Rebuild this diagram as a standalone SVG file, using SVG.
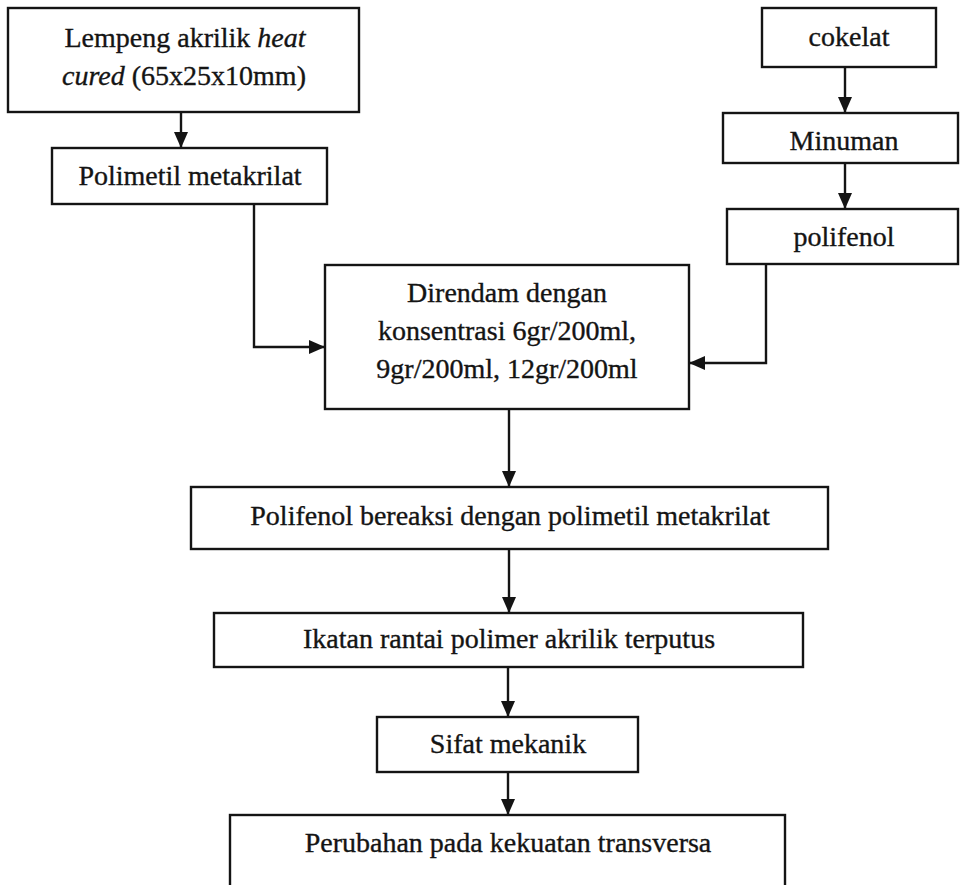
<svg xmlns="http://www.w3.org/2000/svg" width="961" height="885" viewBox="0 0 961 885">
<style>
  .box { fill: #ffffff; stroke: #141414; stroke-width: 2.4; }
  .t { font-family: "Liberation Serif", "Times New Roman", serif; font-size: 28px; fill: #141414; stroke: #141414; stroke-width: 0.35; text-anchor: middle; }
  .con { fill: none; stroke: #141414; stroke-width: 2.4; marker-end: url(#ah); }
</style>
<defs>
  <marker id="ah" markerUnits="userSpaceOnUse" markerWidth="16" markerHeight="14" refX="16" refY="7" orient="auto">
    <path d="M0,0 L16,7 L0,14 z" fill="#141414"/>
  </marker>
</defs>
<rect width="961" height="885" fill="#ffffff"/>

<g id="connectors">
  <path class="con" d="M181,112 V148"/>
  <path class="con" d="M254,204 V347 H325"/>
  <path class="con" d="M845,67 V113"/>
  <path class="con" d="M845,163 V209"/>
  <path class="con" d="M766,264 V363 H689"/>
  <path class="con" d="M509,409 V487"/>
  <path class="con" d="M509,549 V613"/>
  <path class="con" d="M508,667 V717"/>
  <path class="con" d="M508,772 V815"/>
</g>

<g id="lempeng">
  <rect class="box" x="8" y="8" width="351" height="104"/>
  <text class="t" x="185" y="47">Lempeng akrilik <tspan font-style="italic">heat</tspan></text>
  <text class="t" x="184" y="85"><tspan font-style="italic">cured</tspan> (65x25x10mm)</text>
</g>

<g id="polimetil">
  <rect class="box" x="52" y="148" width="275" height="56"/>
  <text class="t" x="190" y="185">Polimetil metakrilat</text>
</g>

<g id="cokelat">
  <rect class="box" x="762" y="8" width="174" height="59"/>
  <text class="t" x="849" y="46">cokelat</text>
</g>

<g id="minuman">
  <rect class="box" x="723" y="113" width="235" height="50"/>
  <text class="t" x="844" y="150">Minuman</text>
</g>

<g id="polifenol">
  <rect class="box" x="727" y="209" width="231" height="55"/>
  <text class="t" x="844" y="246">polifenol</text>
</g>

<g id="direndam">
  <rect class="box" x="325" y="265" width="364" height="144"/>
  <text class="t" x="507" y="302">Direndam dengan</text>
  <text class="t" x="507" y="340">konsentrasi 6gr/200ml,</text>
  <text class="t" x="507" y="378">9gr/200ml, 12gr/200ml</text>
</g>

<g id="bereaksi">
  <rect class="box" x="191" y="487" width="637" height="62"/>
  <text class="t" x="510" y="525">Polifenol bereaksi dengan polimetil metakrilat</text>
</g>

<g id="ikatan">
  <rect class="box" x="214" y="613" width="589" height="54"/>
  <text class="t" x="509" y="648">Ikatan rantai polimer akrilik terputus</text>
</g>

<g id="sifat">
  <rect class="box" x="377" y="717" width="261" height="55"/>
  <text class="t" x="508" y="753">Sifat mekanik</text>
</g>

<g id="perubahan">
  <rect class="box" x="230" y="815" width="555" height="100"/>
  <text class="t" x="508" y="852">Perubahan pada kekuatan transversa</text>
</g>
</svg>
